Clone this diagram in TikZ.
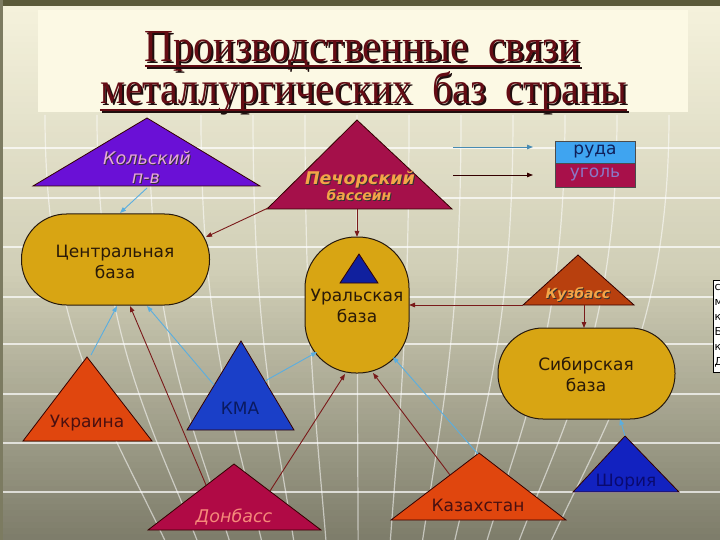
\documentclass[tikz,border=0pt]{standalone}
\usepackage{fontspec}
\setmainfont{DejaVu Sans}
\newfontfamily\ttlfont{Liberation Serif}
\usetikzlibrary{arrows.meta}
\definecolor{bgTop}{HTML}{F5F2DC}
\definecolor{bgMid}{HTML}{D0CEB6}
\definecolor{bgBot}{HTML}{7C7B69}
\definecolor{bandcol}{HTML}{5B5A3A}
\definecolor{titlebg}{HTML}{FCF9E4}
\definecolor{ttlred}{HTML}{640C14}
\definecolor{ttlshadow}{HTML}{1E0E0E}
\definecolor{basecol}{HTML}{D8A513}
\definecolor{basetext}{HTML}{2A1A08}
\definecolor{kolcol}{HTML}{6A10D6}
\definecolor{kolltext}{HTML}{E8A8D8}
\definecolor{pechcol}{HTML}{A5104A}
\definecolor{orangetext}{HTML}{F3A548}
\definecolor{kuzcol}{HTML}{B8400E}
\definecolor{ukrcol}{HTML}{E0460E}
\definecolor{kmacol}{HTML}{1A3FC8}
\definecolor{doncol}{HTML}{B00A45}
\definecolor{dontext}{HTML}{F58A7A}
\definecolor{shorcol}{HTML}{1222C0}
\definecolor{uralmark}{HTML}{10209E}
\definecolor{rudacol}{HTML}{3FA4F0}
\definecolor{ugolcol}{HTML}{A8104A}
\definecolor{ugoltext}{HTML}{8A78C8}
\definecolor{rudatext}{HTML}{10205A}
\definecolor{redarrow}{HTML}{7A1A1A}
\definecolor{bluearrow}{HTML}{5AAEE0}
\definecolor{darktext}{HTML}{4A1010}
\definecolor{navytext}{HTML}{0A1A60}
\definecolor{shortext}{HTML}{0A0A70}
\begin{document}
\begin{tikzpicture}[x=1pt,y=-1pt,
  tri/.style={draw=black!80!red, line width=0.8pt},
  basebox/.style={draw=black!80!brown, line width=1pt, fill=basecol, inner sep=0pt},
  lbl/.style={inner sep=0pt, anchor=base, font=\fontsize{17}{20}\selectfont},
  ilbl/.style={inner sep=0pt, anchor=base, font=\fontsize{17.5}{20}\selectfont\itshape},
  bilbl/.style={inner sep=0pt, anchor=base, font=\fontsize{17.5}{20}\selectfont\bfseries\itshape},
  smbilbl/.style={inner sep=0pt, anchor=base, font=\fontsize{14}{16}\selectfont\bfseries\itshape},
  redarr/.style={draw=redarrow, line width=0.9pt, -{Triangle[length=6pt,width=4.5pt]}},
  bluearr/.style={draw=bluearrow, line width=0.9pt, -{Triangle[length=6pt,width=4.5pt]}},
  gridline/.style={draw=white, opacity=0.7, line width=1.2pt}]
\useasboundingbox (0,0) rectangle (720,540);
% background gradient
\foreach \i in {0,...,44} {
  \pgfmathsetmacro\p{100-\i*100/45}
  \fill[bgTop!\p!bgMid] (0,{\i*6}) rectangle (720,{\i*6+6.5});
}
\foreach \i in {0,...,44} {
  \pgfmathsetmacro\p{100-\i*100/45}
  \fill[bgMid!\p!bgBot] (0,{270+\i*6}) rectangle (720,{270+\i*6+6.5});
}
% grid
\foreach \y in {148,198,247,297,344,394,443,492} {
  \draw[gridline] (0,\y) -- (720,\y);
}
\foreach \xt in {45,97,...,720} {
  \draw[gridline, opacity=0.55] (\xt,115) .. controls (\xt,330) and ({360+(\xt-360)*0.8},420) .. ({360+(\xt-360)*0.62},540);
}
\fill[bandcol] (0,0) rectangle (720,6);
\fill[bandcol!80] (0,0) rectangle (3,540);
% title
\fill[titlebg] (38,10) rectangle (688,112);
\node[anchor=base, inner sep=0pt, text=ttlshadow] (t1s) at (364.5,64) {\resizebox{435pt}{30pt}{\ttlfont Производственные\ \ связи}};
\node[anchor=base, inner sep=0pt, text=ttlred] (t1) at (362.5,62) {\resizebox{435pt}{30pt}{\ttlfont Производственные\ \ связи}};
\draw[ttlshadow, line width=2.6pt] ([xshift=2pt,yshift=-6pt]t1.base west) -- ([xshift=2pt,yshift=-6pt]t1.base east);
\draw[ttlred, line width=2.6pt] ([yshift=-4pt]t1.base west) -- ([yshift=-4pt]t1.base east);
\node[anchor=base, inner sep=0pt, text=ttlshadow] (t2s) at (365.5,106) {\resizebox{527pt}{32pt}{\ttlfont металлургических\ \ баз\ \ страны}};
\node[anchor=base, inner sep=0pt, text=ttlred] (t2) at (363.5,104) {\resizebox{527pt}{32pt}{\ttlfont металлургических\ \ баз\ \ страны}};
\draw[ttlshadow, line width=2.6pt] ([xshift=2pt,yshift=-8pt]t2.base west) -- ([xshift=2pt,yshift=-8pt]t2.base east);
\draw[ttlred, line width=2.6pt] ([yshift=-6pt]t2.base west) -- ([yshift=-6pt]t2.base east);
% triangles
\path[tri, fill=kolcol] (147,118) -- (260,186) -- (33,186) -- cycle;
\path[tri, fill=pechcol] (357,120) -- (452,209) -- (267,209) -- cycle;
\path[tri, fill=kuzcol] (578,255) -- (634,305) -- (523,305) -- cycle;
\path[tri, fill=ukrcol] (87,357) -- (152,441) -- (23,441) -- cycle;
\path[tri, fill=kmacol] (241,341) -- (294,430) -- (187,430) -- cycle;
\path[tri, fill=doncol] (234,464) -- (321,530) -- (148,530) -- cycle;
\path[tri, fill=ukrcol] (479,453) -- (566,520) -- (391,520) -- cycle;
\path[tri, fill=shorcol] (625,436) -- (679,492) -- (573,492) -- cycle;
% bases
\node[basebox, minimum width=188pt, minimum height=91pt, rounded corners=45pt] (central) at (115.5,259.5) {};
\node[basebox, minimum width=104pt, minimum height=136pt, rounded corners=51pt] (ural) at (357,305) {};
\node[basebox, minimum width=177pt, minimum height=91pt, rounded corners=45pt] (sibir) at (586.5,373.5) {};
\path[tri, fill=uralmark] (359,254) -- (378,283) -- (340,283) -- cycle;
% base labels
\node[lbl, text=basetext] (central-t1) at (115,258) {Центральная};
\node[lbl, text=basetext] (central-t2) at (115,278) {база};
\node[lbl, text=basetext] (ural-t1) at (357,301) {Уральская};
\node[lbl, text=basetext] (ural-t2) at (357,322) {база};
\node[lbl, text=basetext] (sibir-t1) at (586,370) {Сибирская};
\node[lbl, text=basetext] (sibir-t2) at (586,391) {база};
% triangle labels
\node[ilbl, text=black!80] (kol-t1s) at (148,166) {Кольский};
\node[ilbl, text=kolltext] (kol-t1) at (147,165) {Кольский};
\node[ilbl, text=black!80] (kol-t2s) at (147,185) {п-в};
\node[ilbl, text=kolltext] (kol-t2) at (146,184) {п-в};
\node[bilbl, text=black!80] (pech-t1s) at (361,186) {Печорский};
\node[bilbl, text=orangetext] (pech-t1) at (360,185) {Печорский};
\node[smbilbl, text=black!80] (pech-t2s) at (360,202) {бассейн};
\node[smbilbl, text=orangetext] (pech-t2) at (359,201) {бассейн};
\node[smbilbl, text=black!80] (kuz-ts) at (579,299) {Кузбасс};
\node[smbilbl, text=orangetext] (kuz-t) at (578,298) {Кузбасс};
\node[lbl, text=darktext] (ukr-t) at (87,427) {Украина};
\node[lbl, text=navytext] (kma-t) at (240,414) {КМА};
\node[ilbl, text=dontext] (don-t) at (234,522) {Донбасс};
\node[lbl, text=darktext] (kaz-t) at (478,511) {Казахстан};
\node[lbl, text=shortext] (shor-t) at (626,486) {Шория};
% legend
\node[draw=black!70, fill=rudacol, minimum width=80pt, minimum height=22pt, inner sep=0pt, text=rudatext, font=\fontsize{17}{20}\selectfont] (ruda) at (595,152) {руда};
\node[draw=black!70, fill=ugolcol, minimum width=80pt, minimum height=24pt, inner sep=0pt, text=ugoltext, font=\fontsize{17}{20}\selectfont] (ugol) at (595,175) {уголь};
\coordinate (lg1a) at (453,147);
\coordinate (lg1b) at (533,147);
\coordinate (lg2a) at (453,175);
\coordinate (lg2b) at (533,175);
\draw[bluearr, draw=bluearrow!80!black] (lg1a) -- (lg1b);
\draw[redarr, draw=black!80!red] (lg2a) -- (lg2b);
% connector end points
\coordinate (kol-out) at (147,188);
\coordinate (central-in1) at (120,213);
\coordinate (pech-outl) at (268,208);
\coordinate (central-in2) at (206,237);
\coordinate (pech-outb) at (357,209);
\coordinate (ural-in1) at (357,237);
\coordinate (kuz-outl) at (523,305);
\coordinate (ural-in2) at (409,305);
\coordinate (kuz-outb) at (584,305);
\coordinate (sibir-in1) at (584,328);
\coordinate (ukr-out) at (91,355);
\coordinate (central-in3) at (117,306);
\coordinate (don-outl) at (206,485);
\coordinate (central-in4) at (130,306);
\coordinate (kma-outl) at (214,385);
\coordinate (central-in5) at (147,306);
\coordinate (kma-outr) at (265,381);
\coordinate (ural-in3) at (317,352);
\coordinate (don-outr) at (270,491);
\coordinate (ural-in4) at (345,374);
\coordinate (kaz-outl) at (450,475);
\coordinate (ural-in5) at (373,373);
\coordinate (kaz-outa) at (478,454);
\coordinate (ural-in6) at (393,357);
\coordinate (shor-out) at (625,436);
\coordinate (sibir-in2) at (620,419);
% connectors
\draw[bluearr] (kol-out) -- (central-in1);
\draw[redarr] (pech-outl) -- (central-in2);
\draw[redarr] (pech-outb) -- (ural-in1);
\draw[redarr] (kuz-outl) -- (ural-in2);
\draw[redarr] (kuz-outb) -- (sibir-in1);
\draw[bluearr] (ukr-out) -- (central-in3);
\draw[redarr] (don-outl) -- (central-in4);
\draw[bluearr] (kma-outl) -- (central-in5);
\draw[bluearr] (kma-outr) -- (ural-in3);
\draw[redarr] (don-outr) -- (ural-in4);
\draw[redarr] (kaz-outl) -- (ural-in5);
\draw[bluearr] (kaz-outa) -- (ural-in6);
\draw[bluearr] (shor-out) -- (sibir-in2);
% clipped side note
\node[draw=black, fill=white, line width=0.8pt, minimum width=12pt, minimum height=92pt, inner sep=0pt, anchor=north west] (note) at (713,280) {};
\foreach \t/\yy/\nm in {с/290/a, м/305/b, к/320/c, Б/335/d, к/350/e, Д/365/f} {
  \node[anchor=base west, inner sep=0pt, font=\fontsize{11}{13}\selectfont] (note-\nm) at (714.5,\yy) {\t};
}
\end{tikzpicture}
\end{document}
